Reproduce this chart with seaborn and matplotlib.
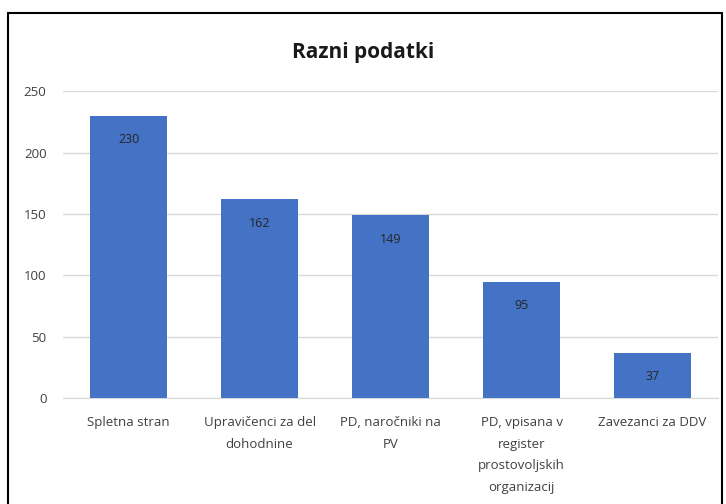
import matplotlib.pyplot as plt
import pandas as pd
import seaborn as sns
from matplotlib.patches import Rectangle

categories = ["Spletna stran", "Upravičenci za del\ndohodnine", "PD, naročniki na\nPV",
              "PD, vpisana v\nregister\nprostovoljskih\norganizacij", "Zavezanci za DDV"]
values = [230, 162, 149, 95, 37]
y_ticks = [0, 50, 100, 150, 200, 250]

df = pd.DataFrame({"kategorija": categories, "vrednost": values})

sns.set_style("white")
plt.rcParams['font.family'] = ['Open Sans', 'DejaVu Sans']

fig = plt.figure(figsize=(7.26, 5.04), dpi=100)
ax = fig.add_axes([0.087, 0.21, 0.902, 0.609])

sns.barplot(data=df, x="kategorija", y="vrednost", color="#4472C4", saturation=1,
            width=0.59, linewidth=0, ax=ax, zorder=3)

ax.set_ylim(0, 250)
ax.set_yticks(y_ticks)
ax.set_xlabel("")
ax.set_ylabel("")
ax.yaxis.grid(True, color="#d9d9d9", linewidth=1, zorder=0)
for s in ["left", "right", "top"]:
    ax.spines[s].set_visible(False)
ax.spines["bottom"].set_color("#d9d9d9")
ax.tick_params(axis="both", length=0, labelsize=9.5, labelcolor="#404040")
ax.tick_params(axis="y", pad=12)
ax.tick_params(axis="x", pad=13)
for lbl in ax.get_xticklabels():
    lbl.set_linespacing(1.85)

ax.bar_label(ax.containers[0], padding=-22, fontsize=9, color="#262626")

fig.text(0.5, 0.895, "Razni podatki", ha="center", va="center", fontsize=15,
         fontweight="bold", color="#1a1a1a")

# frame around the chart
fig.patches.append(Rectangle((0.011, -0.1), 0.983, 1.074, transform=fig.transFigure,
                             fill=False, edgecolor="black", linewidth=1.5))

fig.savefig("out.png", dpi=100)
